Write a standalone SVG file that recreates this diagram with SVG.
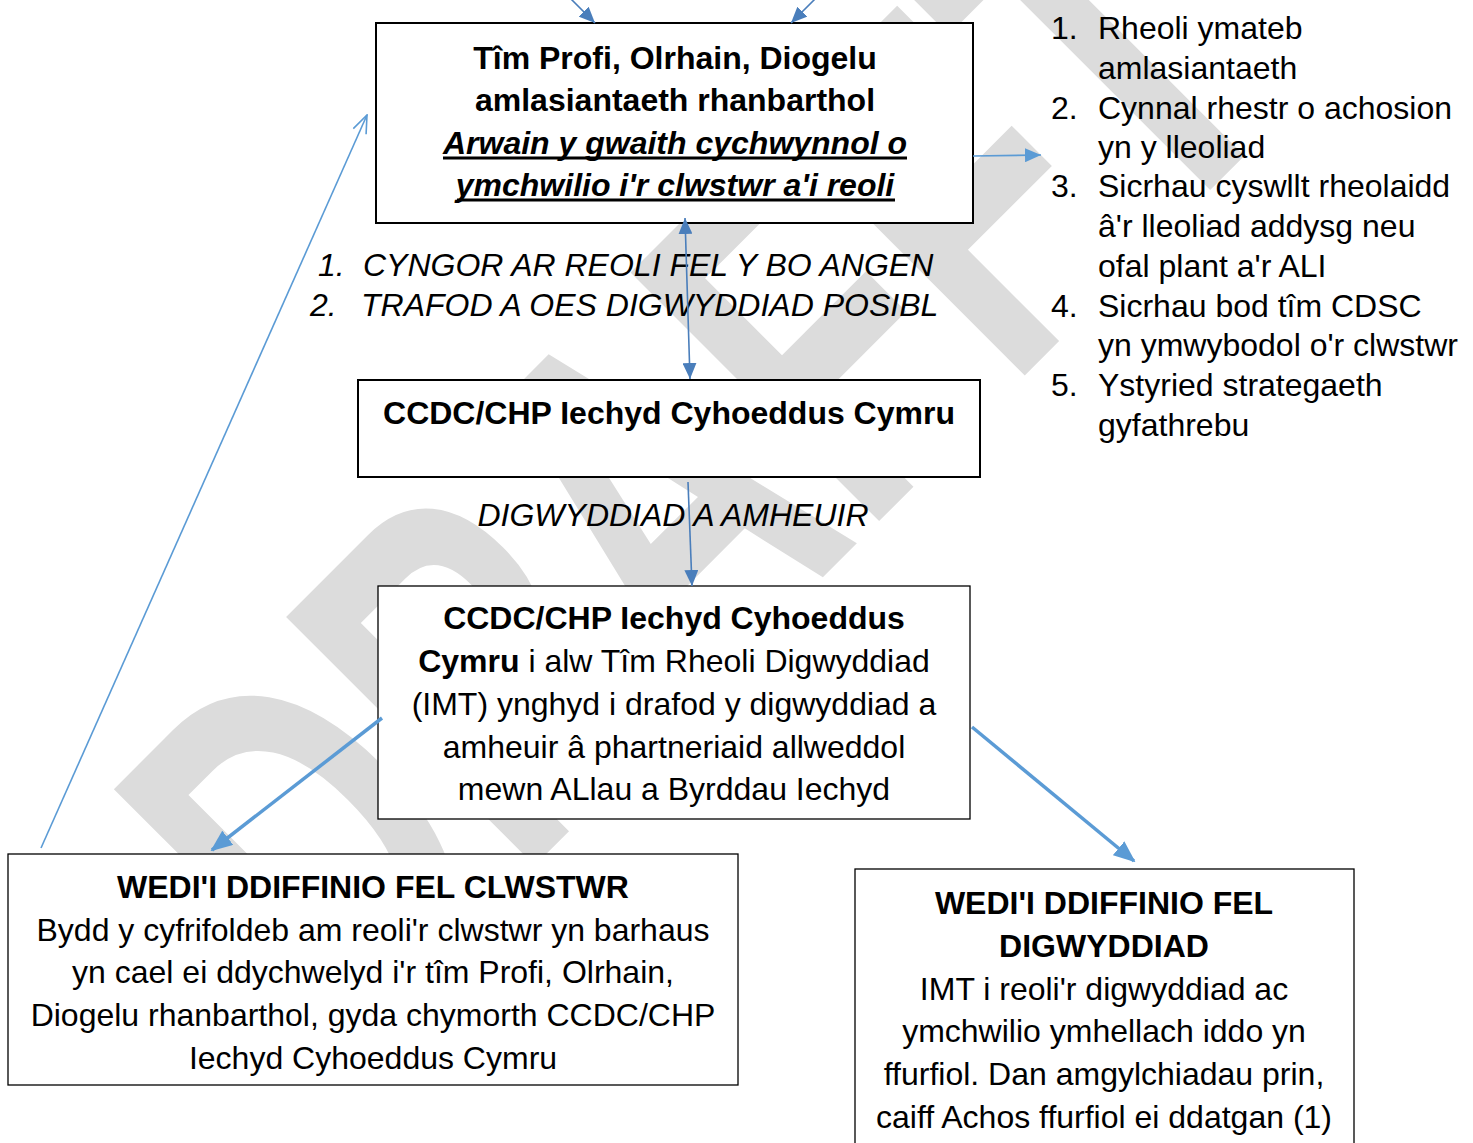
<svg xmlns="http://www.w3.org/2000/svg" width="1473" height="1143" viewBox="0 0 1473 1143">
<style>
.t{font-family:"Liberation Sans",Arial,sans-serif;font-size:32px;fill:#000}
.b{font-weight:bold}
.i{font-style:italic}
.m{text-anchor:middle}
.box{fill:#fff;stroke:#000}
.wm{font-family:"Liberation Sans",Arial,sans-serif;font-weight:bold;font-size:511px;fill:#dcdcdc}
.c1{fill:none;stroke:#4a7ebb;stroke-width:1.6}
.c2{fill:none;stroke:#5b9bd5;stroke-width:1.6}
.c3{fill:none;stroke:#5b9bd5;stroke-width:3.5}
</style>
<defs>
<marker id="ah" viewBox="0 0 16 14" refX="16" refY="7" markerWidth="16" markerHeight="14" markerUnits="userSpaceOnUse" orient="auto-start-reverse"><path d="M0,0 L16,7 L0,14 z" fill="#4a7ebb"/></marker>
<marker id="ah2" viewBox="0 0 16 14" refX="16" refY="7" markerWidth="16" markerHeight="14" markerUnits="userSpaceOnUse" orient="auto"><path d="M0,0 L16,7 L0,14 z" fill="#5b9bd5"/></marker>
<marker id="ahT" viewBox="0 0 22 18" refX="20" refY="9" markerWidth="22" markerHeight="18" markerUnits="userSpaceOnUse" orient="auto"><path d="M0,0 L22,9 L0,18 z" fill="#5b9bd5"/></marker>
<marker id="ahO" viewBox="0 0 20 16" refX="19" refY="8" markerWidth="20" markerHeight="16" markerUnits="userSpaceOnUse" orient="auto"><path d="M1,1 L19,8 L1,15" fill="none" stroke="#5b9bd5" stroke-width="1.6"/></marker>
</defs>
<rect width="1473" height="1143" fill="#fff"/>
<text class="wm" transform="translate(346.5,1053.7) rotate(-45) scale(0.66,1)">DRAFFT</text>

<g id="n-team">
<rect class="box" x="376" y="23" width="597" height="200" stroke-width="2"/>
<text class="t b m" x="675" y="69">Tîm Profi, Olrhain, Diogelu</text>
<text class="t b m" x="675" y="111">amlasiantaeth rhanbarthol</text>
<text class="t b i m" x="675" y="154">Arwain y gwaith cychwynnol o</text>
<rect x="443" y="156.5" width="464" height="3" fill="#000"/>
<text class="t b i m" x="675" y="196">ymchwilio i'r clwstwr a'i reoli</text>
<rect x="457" y="198.5" width="438" height="3" fill="#000"/>
</g>

<g id="n-advice">
<text class="t i" x="318" y="276">1.</text>
<text class="t i" x="363" y="276">CYNGOR AR REOLI FEL Y BO ANGEN</text>
<text class="t i" x="310" y="316">2.</text>
<text class="t i" x="361" y="316">TRAFOD A OES DIGWYDDIAD POSIBL</text>
</g>

<g id="n-list">
<text class="t" x="1051" y="39">1.</text><text class="t" x="1098" y="39">Rheoli ymateb</text>
<text class="t" x="1098" y="79">amlasiantaeth</text>
<text class="t" x="1051" y="119">2.</text><text class="t" x="1098" y="119">Cynnal rhestr o achosion</text>
<text class="t" x="1098" y="158">yn y lleoliad</text>
<text class="t" x="1051" y="197">3.</text><text class="t" x="1098" y="197">Sicrhau cyswllt rheolaidd</text>
<text class="t" x="1098" y="237">â'r lleoliad addysg neu</text>
<text class="t" x="1098" y="277">ofal plant a'r ALI</text>
<text class="t" x="1051" y="317">4.</text><text class="t" x="1098" y="317">Sicrhau bod tîm CDSC</text>
<text class="t" x="1098" y="356">yn ymwybodol o'r clwstwr</text>
<text class="t" x="1051" y="396">5.</text><text class="t" x="1098" y="396">Ystyried strategaeth</text>
<text class="t" x="1098" y="436">gyfathrebu</text>
</g>

<g id="n-ccdc">
<rect class="box" x="358" y="380" width="622" height="97" stroke-width="2"/>
<text class="t b m" x="669" y="424">CCDC/CHP Iechyd Cyhoeddus Cymru</text>
</g>

<g id="n-suspected">
<text class="t i m" x="673" y="526">DIGWYDDIAD A AMHEUIR</text>
</g>

<g id="n-imt">
<rect class="box" x="378" y="586" width="592" height="233" stroke-width="1.3"/>
<text class="t b m" x="674" y="629">CCDC/CHP Iechyd Cyhoeddus</text>
<text class="t m" x="674" y="672"><tspan class="b">Cymru</tspan> i alw Tîm Rheoli Digwyddiad</text>
<text class="t m" x="674" y="715">(IMT) ynghyd i drafod y digwyddiad a</text>
<text class="t m" x="674" y="758">amheuir â phartneriaid allweddol</text>
<text class="t m" x="674" y="800">mewn ALlau a Byrddau Iechyd</text>
</g>

<g id="n-cluster">
<rect class="box" x="8" y="854" width="730" height="231" stroke-width="1.3"/>
<text class="t b m" x="373" y="898">WEDI'I DDIFFINIO FEL CLWSTWR</text>
<text class="t m" x="373" y="941">Bydd y cyfrifoldeb am reoli'r clwstwr yn barhaus</text>
<text class="t m" x="373" y="983">yn cael ei ddychwelyd i'r tîm Profi, Olrhain,</text>
<text class="t m" x="373" y="1026">Diogelu rhanbarthol, gyda chymorth CCDC/CHP</text>
<text class="t m" x="373" y="1069">Iechyd Cyhoeddus Cymru</text>
</g>

<g id="n-incident">
<rect class="box" x="855" y="869" width="499" height="290" stroke-width="1.3"/>
<text class="t b m" x="1104" y="914">WEDI'I DDIFFINIO FEL</text>
<text class="t b m" x="1104" y="957">DIGWYDDIAD</text>
<text class="t m" x="1104" y="1000">IMT i reoli'r digwyddiad ac</text>
<text class="t m" x="1104" y="1042">ymchwilio ymhellach iddo yn</text>
<text class="t m" x="1104" y="1085">ffurfiol. Dan amgylchiadau prin,</text>
<text class="t m" x="1104" y="1128">caiff Achos ffurfiol ei ddatgan (1)</text>
</g>

<g id="connectors">
<path class="c1" d="M560,-12 L595,23" marker-end="url(#ah)"/>
<path class="c1" d="M826,-12 L791,23" marker-end="url(#ah)"/>
<path class="c1" d="M685,218 L690,379" marker-start="url(#ah)" marker-end="url(#ah)"/>
<path class="c1" d="M688,482 L692,586" marker-end="url(#ah)"/>
<path class="c2" d="M973,156 L1041,155" marker-end="url(#ah2)"/>
<path class="c3" d="M382,718 L212,850" marker-end="url(#ahT)"/>
<path class="c3" d="M972,727 L1134,861" marker-end="url(#ahT)"/>
<path class="c2" d="M41,848 L367,115" marker-end="url(#ahO)"/>
</g>
</svg>
